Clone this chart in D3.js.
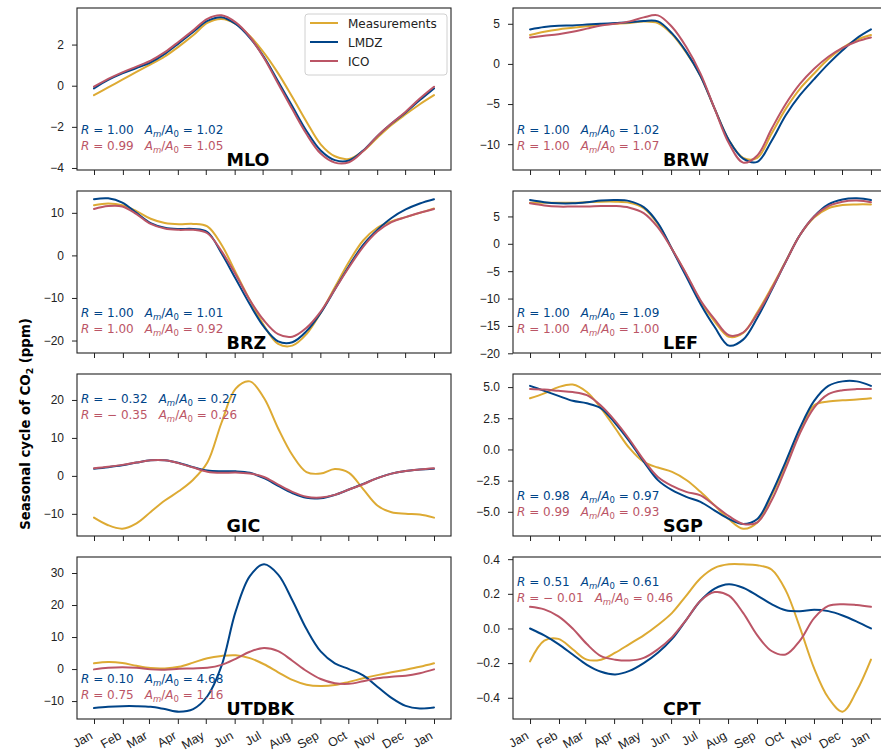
<!DOCTYPE html>
<html>
<head>
<meta charset="utf-8">
<script src="https://cdn.jsdelivr.net/npm/d3@7"></script>
<style>
  html, body { margin: 0; padding: 0; background: #fff; }
  svg { display: block; font-family: "DejaVu Sans", sans-serif; }
</style>
</head>
<body>
<svg id="chart" width="881" height="753"></svg>
<script>
// ---- data: seasonal cycle of CO2 (ppm), sampled twice per month (Jan 1 ... next Jan 1) ----
const monthLabels = ["Jan", "Feb", "Mar", "Apr", "May", "Jun", "Jul", "Aug", "Sep", "Oct", "Nov", "Dec", "Jan"];
const monthStartDays = [0, 31, 59, 90, 120, 151, 181, 212, 243, 273, 304, 334, 365];

const mloMeas = [-0.46, -0.08, 0.29, 0.67, 1.04, 1.42, 1.91, 2.45, 3.05, 3.24, 3.0, 2.42, 1.6, 0.6, -0.55, -1.75, -2.85, -3.43, -3.56, -3.18, -2.53, -1.91, -1.39, -0.9, -0.46];
const mloLmdz = [-0.13, 0.28, 0.6, 0.86, 1.14, 1.55, 2.07, 2.61, 3.15, 3.33, 3.0, 2.33, 1.39, 0.2, -1.0, -2.2, -3.15, -3.62, -3.64, -3.15, -2.45, -1.84, -1.3, -0.7, -0.13];
const mloIco  = [-0.05, 0.33, 0.65, 0.93, 1.22, 1.63, 2.15, 2.69, 3.25, 3.42, 3.08, 2.38, 1.35, 0.1, -1.15, -2.35, -3.3, -3.74, -3.72, -3.18, -2.45, -1.84, -1.26, -0.62, -0.05];

const brwMeas = [3.6, 4.0, 4.3, 4.5, 4.7, 4.9, 5.0, 5.1, 5.3, 5.1, 3.7, 1.4, -1.5, -5.6, -9.5, -11.7, -11.7, -8.7, -5.6, -3.1, -1.2, 0.6, 2.0, 3.0, 3.6];
const brwLmdz = [4.3, 4.6, 4.75, 4.8, 4.9, 5.0, 5.1, 5.2, 5.35, 5.3, 3.8, 1.5, -1.5, -5.6, -9.5, -11.8, -12.2, -9.6, -6.4, -3.9, -1.9, 0.0, 1.7, 3.2, 4.3];
const brwIco  = [3.3, 3.5, 3.7, 4.0, 4.4, 4.8, 5.0, 5.3, 5.8, 6.05, 4.6, 2.1, -1.2, -5.6, -9.9, -12.3, -11.4, -8.1, -5.0, -2.5, -0.6, 0.9, 2.0, 2.8, 3.3];

const brzMeas = [11.8, 12.2, 11.8, 10.4, 8.6, 7.6, 7.3, 7.4, 6.8, 2.5, -4.0, -10.5, -16.5, -20.8, -21.2, -18.5, -13.5, -7.5, -1.5, 3.5, 6.5, 8.0, 9.0, 10.0, 11.0];
const brzLmdz = [13.2, 13.4, 12.4, 10.0, 7.6, 6.5, 6.2, 6.2, 5.5, 0.5, -5.5, -11.5, -16.8, -20.2, -20.4, -17.8, -13.5, -8.0, -2.5, 2.5, 6.0, 8.8, 10.8, 12.2, 13.2];
const brzIco  = [10.9, 11.6, 11.5, 9.7, 7.4, 6.3, 6.0, 6.0, 5.2, 1.0, -4.5, -10.5, -15.3, -18.5, -19.1, -17.0, -13.2, -8.0, -2.8, 2.0, 5.6, 7.8, 9.0, 10.0, 10.9];

const lefMeas = [7.5, 7.5, 7.5, 7.5, 7.6, 7.7, 7.7, 7.5, 6.5, 3.6, -1.0, -5.6, -10.5, -14.2, -17.0, -16.3, -12.5, -8.0, -3.2, 1.6, 4.8, 6.5, 7.1, 7.2, 7.2];
const lefLmdz = [8.0, 7.6, 7.4, 7.4, 7.6, 7.9, 8.0, 7.8, 6.7, 3.8, -1.0, -6.0, -11.0, -15.2, -18.6, -17.5, -13.5, -8.5, -3.3, 1.6, 5.0, 7.2, 8.1, 8.3, 8.0];
const lefIco  = [7.4, 7.0, 6.8, 6.8, 6.8, 6.9, 6.9, 6.6, 5.6, 3.0, -1.0, -5.5, -10.3, -13.8, -16.7, -16.2, -12.8, -8.3, -3.3, 1.6, 5.0, 6.9, 7.7, 7.9, 7.6];

const gicMeas = [-11.0, -13.0, -13.9, -12.5, -9.5, -6.5, -4.0, -1.0, 3.5, 14.0, 23.0, 24.9, 20.5, 12.5, 5.5, 1.0, 0.6, 1.8, 0.8, -3.5, -7.8, -9.6, -10.0, -10.2, -11.0];
const gicLmdz = [1.9, 2.3, 2.8, 3.5, 4.1, 4.1, 3.4, 2.3, 1.4, 1.2, 1.2, 0.8, -0.6, -2.6, -4.5, -5.8, -5.9, -5.0, -3.6, -2.1, -0.6, 0.6, 1.3, 1.7, 1.9];
const gicIco  = [2.0, 2.4, 2.9, 3.5, 4.1, 4.1, 3.3, 2.2, 1.1, 0.8, 0.9, 0.6, -0.3, -2.3, -4.2, -5.5, -5.7, -5.0, -3.6, -2.2, -0.6, 0.6, 1.3, 1.7, 2.0];

const sgpMeas = [4.1, 4.5, 5.0, 5.2, 4.6, 3.3, 1.7, 0.1, -1.0, -1.45, -1.8, -2.45, -3.4, -4.5, -5.6, -6.35, -5.85, -3.7, -1.25, 1.45, 3.55, 3.85, 3.95, 4.0, 4.1];
const sgpLmdz = [5.1, 4.7, 4.3, 3.9, 3.7, 3.3, 2.1, 0.65, -0.97, -2.46, -3.27, -3.8, -4.2, -4.9, -5.57, -5.97, -5.57, -3.54, -0.97, 1.73, 3.9, 5.1, 5.46, 5.46, 5.1];
const sgpIco  = [4.85, 4.8, 4.7, 4.6, 4.35, 3.5, 2.27, 0.8, -0.84, -2.2, -2.92, -3.4, -3.68, -4.5, -5.35, -5.97, -5.84, -4.1, -1.5, 1.3, 3.35, 4.43, 4.75, 4.84, 4.84];

const utdbkMeas = [1.8, 2.2, 1.9, 1.0, 0.3, 0.2, 0.7, 2.0, 3.4, 4.1, 4.3, 3.4, 1.5, -1.0, -3.4, -4.9, -5.3, -5.0, -4.0, -2.9, -1.9, -1.0, -0.2, 0.7, 1.8];
const utdbkLmdz = [-12.2, -11.8, -11.6, -11.6, -11.8, -12.5, -13.3, -12.5, -8.5, 1.0, 18.0, 29.0, 32.7, 29.5, 21.5, 12.5, 5.5, 1.8, 0.0, -2.0, -5.5, -9.0, -11.5, -12.3, -12.0];
const utdbkIco  = [-0.1, 0.4, 0.6, 0.4, -0.1, -0.2, 0.1, 0.2, 0.4, 1.3, 3.2, 5.4, 6.6, 5.6, 2.6, -0.6, -3.1, -4.4, -4.6, -3.8, -2.9, -2.4, -2.1, -1.3, -0.1];

const cptMeas = [-0.19, -0.07, -0.06, -0.12, -0.18, -0.18, -0.14, -0.09, -0.04, 0.02, 0.09, 0.19, 0.29, 0.35, 0.37, 0.37, 0.365, 0.34, 0.22, 0.005, -0.23, -0.40, -0.48, -0.36, -0.18];
const cptLmdz = [0.0, -0.04, -0.09, -0.15, -0.21, -0.25, -0.265, -0.245, -0.2, -0.14, -0.06, 0.05, 0.16, 0.23, 0.255, 0.235, 0.19, 0.14, 0.105, 0.1, 0.108, 0.1, 0.075, 0.04, 0.0];
const cptIco  = [0.125, 0.11, 0.07, 0.0, -0.09, -0.16, -0.18, -0.185, -0.17, -0.12, -0.05, 0.05, 0.16, 0.21, 0.19, 0.09, -0.04, -0.13, -0.15, -0.07, 0.06, 0.13, 0.14, 0.135, 0.125];

// per-station tick values
const mloTicks = [-4, -2, 0, 2];
const brwTicks = [-10, -5, 0, 5];
const brzTicks = [-20, -10, 0, 10];
const lefTicks = [-20, -15, -10, -5, 0, 5];
const gicTicks = [-10, 0, 10, 20];
const sgpTicks = [-5.0, -2.5, 0.0, 2.5, 5.0];
const utdbkTicks = [-10, 0, 10, 20, 30];
const cptTicks = [-0.4, -0.2, 0.0, 0.2, 0.4];

// correlation and amplitude ratio for each station (LMDZ, ICO)
const stationNames = ["MLO", "BRW", "BRZ", "LEF", "GIC", "SGP", "UTDBK", "CPT"];
const rLmdz   = [1.00, 1.00, 1.00, 1.00, -0.32, 0.98, 0.10, 0.51];
const ampLmdz = [1.02, 1.02, 1.01, 1.09, 0.27, 0.97, 4.68, 0.61];
const rIco    = [0.99, 1.00, 1.00, 1.00, -0.35, 0.99, 0.75, -0.01];
const ampIco  = [1.05, 1.07, 0.92, 1.00, 0.26, 0.93, 1.16, 0.46];

const seriesNames = ["Measurements", "LMDZ", "ICO"];
const seriesColors = ["#DDAA33", "#004488", "#BB5566"];

// ---- layout ----
const svg = d3.select("#chart");
const colX = [[77, 451], [513, 888]];
const rowTop = [8, 191, 374, 557];
const panelH = 162;

const sampleDay = d3.range(25).map(i => i * 365 / 24);

const panels = [
  { meas: mloMeas, lmdz: mloLmdz, ico: mloIco, ticks: mloTicks, dec: 0, col: 0, row: 0, stat: "bottom", legend: true },
  { meas: brwMeas, lmdz: brwLmdz, ico: brwIco, ticks: brwTicks, dec: 0, col: 1, row: 0, stat: "bottom" },
  { meas: brzMeas, lmdz: brzLmdz, ico: brzIco, ticks: brzTicks, dec: 0, col: 0, row: 1, stat: "bottom" },
  { meas: lefMeas, lmdz: lefLmdz, ico: lefIco, ticks: lefTicks, dec: 0, col: 1, row: 1, stat: "bottom" },
  { meas: gicMeas, lmdz: gicLmdz, ico: gicIco, ticks: gicTicks, dec: 0, col: 0, row: 2, stat: "top" },
  { meas: sgpMeas, lmdz: sgpLmdz, ico: sgpIco, ticks: sgpTicks, dec: 1, col: 1, row: 2, stat: "bottom" },
  { meas: utdbkMeas, lmdz: utdbkLmdz, ico: utdbkIco, ticks: utdbkTicks, dec: 0, col: 0, row: 3, stat: "bottom" },
  { meas: cptMeas, lmdz: cptLmdz, ico: cptIco, ticks: cptTicks, dec: 1, col: 1, row: 3, stat: "top" }
];

const fmtSigned = v => (v < 0 ? "\u2212" : "") + Math.abs(v).toFixed(2);
const fmtR = v => (v < 0 ? "\u2212 " : "") + Math.abs(v).toFixed(2);

function statLine(g, x, y, color, r, amp) {
  const t1 = g.append("text").attr("x", x).attr("y", y).attr("fill", color).style("font-size", "12px");
  t1.append("tspan").style("font-style", "italic").text("R");
  t1.append("tspan").text(" = " + fmtR(r));
  const w = t1.node().getComputedTextLength();
  const t2 = g.append("text").attr("x", x + w + 11).attr("y", y).attr("fill", color).style("font-size", "12px");
  t2.append("tspan").style("font-style", "italic").text("A");
  t2.append("tspan").style("font-style", "italic").style("font-size", "8.5px").attr("dy", 2.5).text("m");
  t2.append("tspan").attr("dy", -2.5).text("/");
  t2.append("tspan").style("font-style", "italic").text("A");
  t2.append("tspan").style("font-size", "8.5px").attr("dy", 2.5).text("0");
  t2.append("tspan").attr("dy", -2.5).text(" = " + fmtSigned(amp));
}

panels.forEach((p, k) => {
  const [x0, x1] = colX[p.col];
  const y0 = rowTop[p.row], y1 = y0 + panelH;
  const g = svg.append("g");

  const x = d3.scaleLinear().domain([-365 * 0.05, 365 * 1.05]).range([x0, x1]);
  const all = p.meas.concat(p.lmdz, p.ico);
  const [lo, hi] = d3.extent(all);
  const pad = (hi - lo) * 0.05;
  const y = d3.scaleLinear().domain([lo - pad, hi + pad]).range([y1, y0]);

  // clip region for curves
  const clipId = "clip" + k;
  svg.append("clipPath").attr("id", clipId)
    .append("rect").attr("x", x0).attr("y", y0).attr("width", x1 - x0).attr("height", y1 - y0);

  // x ticks (labels only on bottom row)
  const xAxis = d3.axisBottom(x).tickValues(monthStartDays).tickSize(5).tickPadding(4)
    .tickFormat(p.row === 3 ? ((d, i) => monthLabels[i]) : () => "");
  const gx = g.append("g").attr("transform", `translate(0,${y1})`).call(xAxis);
  gx.select(".domain").remove();
  gx.selectAll(".tick line").attr("stroke", "#222").attr("stroke-width", 1);
  gx.selectAll(".tick text")
    .style("font-size", "12.5px").attr("fill", "#222")
    .attr("text-anchor", "end")
    .attr("dy", null).attr("y", null)
    .attr("transform", "translate(-1,19) rotate(-30)");

  // y ticks
  const yAxis = d3.axisLeft(y).tickValues(p.ticks).tickSize(5).tickPadding(8)
    .tickFormat(d => (d < 0 ? "\u2212" : "") + Math.abs(d).toFixed(p.dec));
  const gy = g.append("g").attr("transform", `translate(${x0},0)`).call(yAxis);
  gy.select(".domain").remove();
  gy.selectAll(".tick line").attr("stroke", "#222").attr("stroke-width", 1);
  gy.selectAll(".tick text").style("font-size", "12px").attr("fill", "#222");

  // curves
  const line = d3.line().x((d, i) => x(sampleDay[i])).y(d => y(d)).curve(d3.curveCatmullRom.alpha(0.5));
  const cg = g.append("g").attr("clip-path", `url(#${clipId})`);
  [p.meas, p.lmdz, p.ico].forEach((s, j) => {
    cg.append("path").datum(s).attr("d", line)
      .attr("fill", "none").attr("stroke", seriesColors[j]).attr("stroke-width", 2)
      .attr("stroke-linejoin", "round").attr("stroke-linecap", "round");
  });

  // frame
  g.append("rect").attr("x", x0).attr("y", y0).attr("width", x1 - x0).attr("height", y1 - y0)
    .attr("fill", "none").attr("stroke", "#222").attr("stroke-width", 1.1);

  // station name
  g.append("text").attr("x", x0 + 0.4 * (x1 - x0)).attr("y", y1 - 4.5)
    .style("font-size", "17.5px").style("font-weight", "bold").attr("fill", "#000")
    .text(stationNames[k]);

  // statistics
  const sx = x0 + 4;
  const [b1, b2] = p.stat === "top" ? [y0 + 29, y0 + 45] : [y1 - 36, y1 - 20];
  statLine(g, sx, b1, seriesColors[1], rLmdz[k], ampLmdz[k]);
  statLine(g, sx, b2, seriesColors[2], rIco[k], ampIco[k]);

  // legend
  if (p.legend) {
    const lg = g.append("g");
    lg.append("rect").attr("x", 305).attr("y", 14).attr("width", 142).attr("height", 61).attr("rx", 3)
      .attr("fill", "#fff").attr("fill-opacity", 0.8).attr("stroke", "#d0d0d0").attr("stroke-width", 1);
    seriesNames.forEach((n, j) => {
      const ly = 23 + j * 19;
      lg.append("line").attr("x1", 310).attr("x2", 338).attr("y1", ly).attr("y2", ly)
        .attr("stroke", seriesColors[j]).attr("stroke-width", 2);
      lg.append("text").attr("x", 348).attr("y", ly + 4.5).style("font-size", "12px").attr("fill", "#222").text(n);
    });
  }
});

// shared y label
const yl = svg.append("text")
  .attr("transform", "translate(30,424) rotate(-90)")
  .attr("text-anchor", "middle")
  .style("font-size", "13.3px").style("font-weight", "bold").attr("fill", "#000");
yl.append("tspan").text("Seasonal cycle of CO");
yl.append("tspan").style("font-size", "9.3px").attr("dy", 3).text("2");
yl.append("tspan").attr("dy", -3).text(" (ppm)");
</script>
</body>
</html>
